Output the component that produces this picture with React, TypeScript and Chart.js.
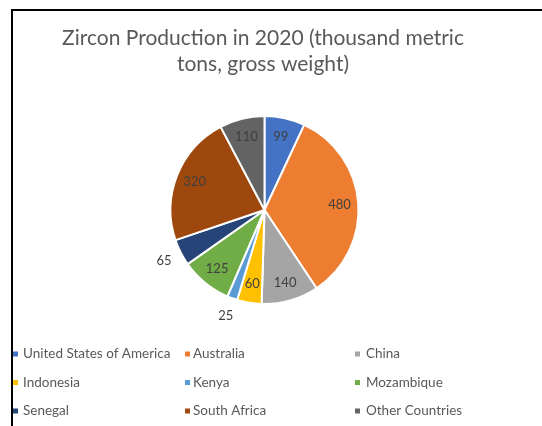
import React, { useEffect, useRef } from 'react';
import { Chart, registerables } from 'chart.js';

Chart.register(...registerables);

const categories = [
  'United States of America',
  'Australia',
  'China',
  'Indonesia',
  'Kenya',
  'Mozambique',
  'Senegal',
  'South Africa',
  'Other Countries',
];
const values = [99, 480, 140, 60, 25, 125, 65, 320, 110];
const colors = ['#4472C4', '#ED7D31', '#A5A5A5', '#FFC000', '#5B9BD5', '#70AD47', '#264478', '#9E480E', '#636363'];
const titleLines = ['Zircon Production in 2020 (thousand metric', 'tons, gross weight)'];
const outsideLabels = ['Kenya', 'Senegal'];

const FONT = 'Lato, "Open Sans", sans-serif';

const overlayPlugin = {
  id: 'overlay',
  afterDraw(chart: any) {
    const ctx = chart.ctx as CanvasRenderingContext2D;
    ctx.save();
    // frame
    ctx.fillStyle = '#000';
    ctx.fillRect(11, 9, 2, 420);
    ctx.fillRect(11, 9, 540, 2);

    // title
    ctx.fillStyle = '#595959';
    ctx.font = `21px ${FONT}`;
    ctx.textAlign = 'center';
    ctx.textBaseline = 'alphabetic';
    titleLines.forEach((t, i) => ctx.fillText(t, 263, 45 + i * 26));

    // data labels
    const meta = chart.getDatasetMeta(0);
    ctx.font = `13px ${FONT}`;
    ctx.fillStyle = '#404040';
    ctx.textBaseline = 'middle';
    meta.data.forEach((arc: any, i: number) => {
      const p = arc.getProps(['startAngle', 'endAngle', 'x', 'y', 'outerRadius'], true);
      const mid = (p.startAngle + p.endAngle) / 2;
      const outside = outsideLabels.includes(categories[i]);
      const r = p.outerRadius * (outside ? 1.2 : 0.8);
      ctx.fillText(String(values[i]), p.x + Math.cos(mid) * r, p.y + Math.sin(mid) * r);
    });

    // legend
    const colX = [13, 185, 355];
    const textX = [23, 193, 366];
    const rowY = [354, 382.5, 411];
    ctx.font = `13.5px ${FONT}`;
    ctx.textAlign = 'left';
    categories.forEach((c, i) => {
      const col = i % 3;
      const row = Math.floor(i / 3);
      ctx.fillStyle = colors[i];
      ctx.fillRect(colX[col], rowY[row] - 2.5, 5, 5);
      ctx.fillStyle = '#595959';
      ctx.fillText(c, textX[col], rowY[row]);
    });
    ctx.restore();
  },
};

export default function App() {
  const ref = useRef<HTMLCanvasElement>(null);
  useEffect(() => {
    const chart = new Chart(ref.current!, {
      type: 'pie',
      data: {
        labels: categories,
        datasets: [
          {
            data: values,
            backgroundColor: colors,
            borderColor: '#ffffff',
            borderWidth: 2,
          },
        ],
      },
      options: {
        responsive: true,
        maintainAspectRatio: false,
        animation: false,
        radius: 94,
        layout: { padding: { left: 0, right: 13, top: 0, bottom: 6 } },
        plugins: {
          legend: { display: false },
          title: { display: false },
          tooltip: { enabled: false },
        },
      } as any,
      plugins: [overlayPlugin],
    });
    return () => chart.destroy();
  }, []);
  return (
    <div style={{ position: 'fixed', left: 0, top: 0, width: 542, height: 426, background: '#fff' }}>
      <canvas ref={ref} />
    </div>
  );
}
